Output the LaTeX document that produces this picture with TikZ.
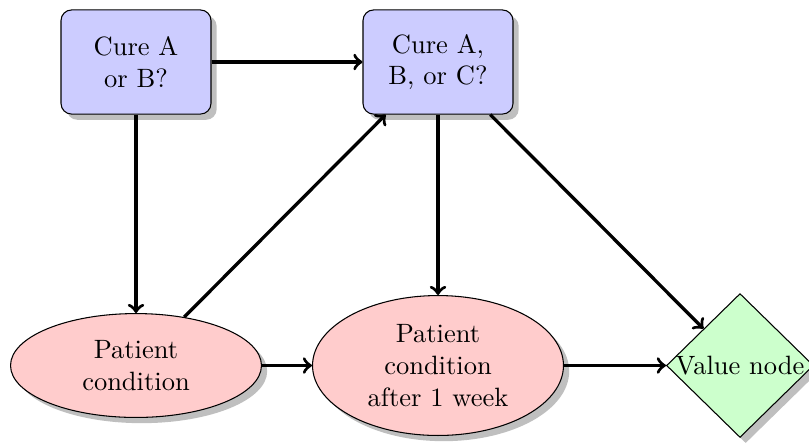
\documentclass[tikz,border=0pt]{standalone}
\usetikzlibrary{shapes.geometric,shadows,arrows}
\begin{document}
\begin{tikzpicture}[x=0.3774pt,y=-0.3774pt,
  decision/.style={rectangle, rounded corners=4pt, draw, fill=blue!20, drop shadow,
    minimum width=56.6pt, minimum height=39.3pt, align=center, inner sep=0pt},
  chance/.style={ellipse, draw, fill=red!20, drop shadow, align=center, inner sep=0pt,
    minimum width=94.7pt},
  valuenode/.style={diamond, draw, fill=green!20, drop shadow, inner sep=0pt,
    minimum width=55.5pt, minimum height=54.3pt},
  conn/.style={->, line width=1.25pt}]
\useasboundingbox (0,0) rectangle (809,442);
\node[decision] (d1) at (136,62) {Cure A\\or B?};
\node[decision] (d2) at (438,62) {Cure A,\\B, or C?};
\node[chance, minimum height=39.2pt] (c1) at (136,365.5) {Patient\\condition};
\node[chance, minimum height=52.8pt] (c2) at (438,365.5) {Patient\\condition\\after 1 week};
\node[valuenode] (v) at (740,365.5) {\makebox[0pt]{Value node}};
\draw[conn] (d1) -- (d2);
\draw[conn] (d1) -- (c1);
\draw[conn] (c1) -- (d2);
\draw[conn] (d2) -- (c2);
\draw[conn] (d2) -- (v);
\draw[conn] (c1) -- (c2);
\draw[conn] (c2) -- (v);
\end{tikzpicture}
\end{document}
